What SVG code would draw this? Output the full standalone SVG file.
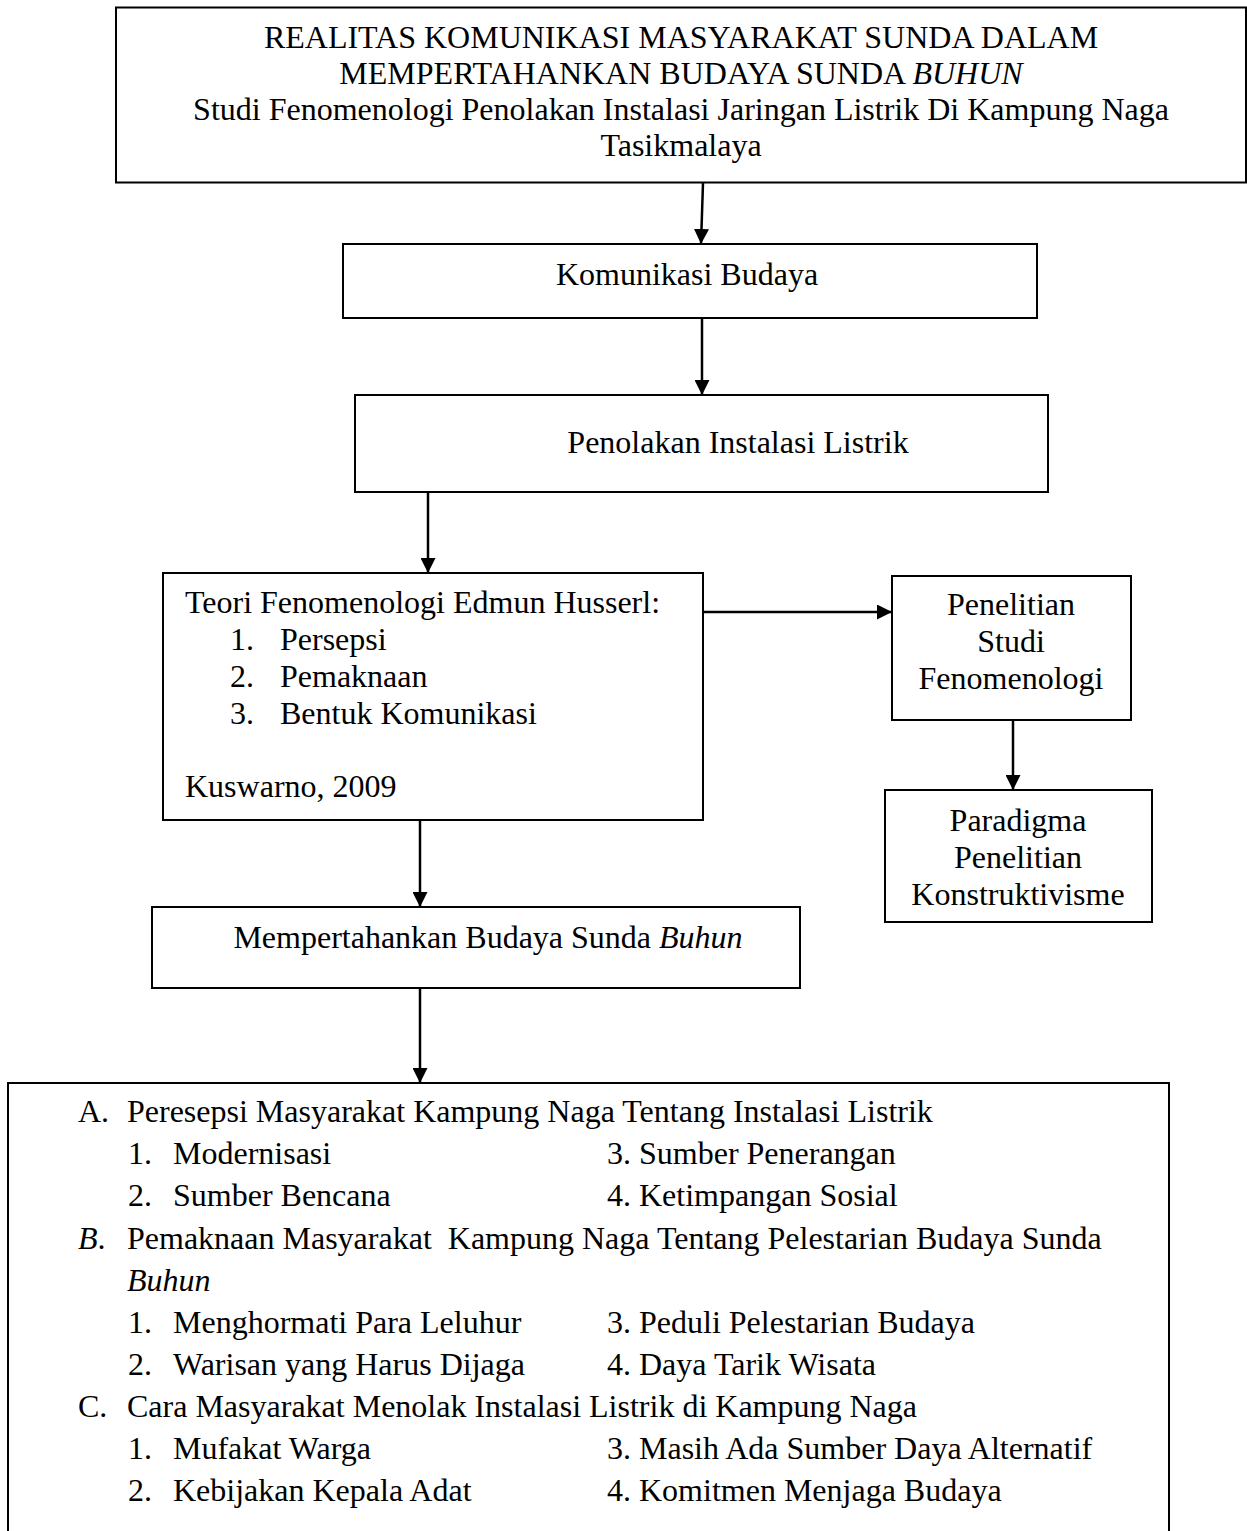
<svg xmlns="http://www.w3.org/2000/svg" width="1247" height="1531" viewBox="0 0 1247 1531">
<defs>
<style>
text{font-family:"Liberation Serif","Times New Roman",serif;font-size:32px;fill:#000}
.c{text-anchor:middle}
.box{fill:#fff;stroke:#000;stroke-width:2}
.ln{stroke:#000;stroke-width:2.5;fill:none}
</style>
<marker id="ah" markerWidth="15" markerHeight="15" refX="15" refY="7.5" orient="auto" markerUnits="userSpaceOnUse">
<path d="M0,0 L15,7.5 L0,15 Z" fill="#000"/>
</marker>
</defs>
<rect width="1247" height="1531" fill="#fff"/>

<g id="connectors">
<line class="ln" x1="703" y1="183" x2="701" y2="244" marker-end="url(#ah)"/>
<line class="ln" x1="702" y1="318" x2="702" y2="395" marker-end="url(#ah)"/>
<line class="ln" x1="428" y1="492" x2="428" y2="573" marker-end="url(#ah)"/>
<line class="ln" x1="699" y1="612" x2="892" y2="612" marker-end="url(#ah)"/>
<line class="ln" x1="1013" y1="720" x2="1013" y2="790" marker-end="url(#ah)"/>
<line class="ln" x1="420" y1="820" x2="420" y2="907" marker-end="url(#ah)"/>
<line class="ln" x1="420" y1="988" x2="420" y2="1083" marker-end="url(#ah)"/>
</g>

<g id="node-title">
<rect class="box" x="116" y="7.5" width="1130" height="175"/>
<text class="c" x="681" y="48">REALITAS KOMUNIKASI MASYARAKAT SUNDA DALAM</text>
<text class="c" x="681" y="84">MEMPERTAHANKAN BUDAYA SUNDA <tspan font-style="italic">BUHUN</tspan></text>
<text class="c" x="681" y="120">Studi Fenomenologi Penolakan Instalasi Jaringan Listrik Di Kampung Naga</text>
<text class="c" x="681" y="156">Tasikmalaya</text>
</g>

<g id="node-komunikasi">
<rect class="box" x="343" y="244" width="694" height="74"/>
<text class="c" x="687" y="285">Komunikasi Budaya</text>
</g>

<g id="node-penolakan">
<rect class="box" x="355" y="395" width="693" height="97"/>
<text class="c" x="738" y="453">Penolakan Instalasi Listrik</text>
</g>

<g id="node-teori">
<rect class="box" x="163" y="573" width="540" height="247"/>
<text x="185" y="613">Teori Fenomenologi Edmun Husserl:</text>
<text x="230" y="650">1.</text><text x="280" y="650">Persepsi</text>
<text x="230" y="687">2.</text><text x="280" y="687">Pemaknaan</text>
<text x="230" y="724">3.</text><text x="280" y="724">Bentuk Komunikasi</text>
<text x="185" y="797">Kuswarno, 2009</text>
</g>

<g id="node-penelitian">
<rect class="box" x="892" y="576" width="239" height="144"/>
<text class="c" x="1011" y="615">Penelitian</text>
<text class="c" x="1011" y="652">Studi</text>
<text class="c" x="1011" y="689">Fenomenologi</text>
</g>

<g id="node-paradigma">
<rect class="box" x="885" y="790" width="267" height="132"/>
<text class="c" x="1018" y="831">Paradigma</text>
<text class="c" x="1018" y="868">Penelitian</text>
<text class="c" x="1018" y="905">Konstruktivisme</text>
</g>

<g id="node-mempertahankan">
<rect class="box" x="152" y="907" width="648" height="81"/>
<text class="c" x="488" y="948">Mempertahankan Budaya Sunda <tspan font-style="italic">Buhun</tspan></text>
</g>

<g id="node-hasil">
<path class="box" d="M8,1540 L8,1083 L1169,1083 L1169,1540"/>
<text x="78" y="1122">A.</text><text x="127" y="1122">Peresepsi Masyarakat Kampung Naga Tentang Instalasi Listrik</text>
<text x="128" y="1164">1.</text><text x="173" y="1164">Modernisasi</text><text x="607" y="1164">3. Sumber Penerangan</text>
<text x="128" y="1206">2.</text><text x="173" y="1206">Sumber Bencana</text><text x="607" y="1206">4. Ketimpangan Sosial</text>
<text x="78" y="1249"><tspan font-style="italic">B</tspan>.</text><text x="127" y="1249" xml:space="preserve">Pemaknaan Masyarakat  Kampung Naga Tentang Pelestarian Budaya Sunda</text>
<text x="127" y="1291" font-style="italic">Buhun</text>
<text x="128" y="1333">1.</text><text x="173" y="1333">Menghormati Para Leluhur</text><text x="607" y="1333">3. Peduli Pelestarian Budaya</text>
<text x="128" y="1375">2.</text><text x="173" y="1375">Warisan yang Harus Dijaga</text><text x="607" y="1375">4. Daya Tarik Wisata</text>
<text x="78" y="1417">C.</text><text x="127" y="1417">Cara Masyarakat Menolak Instalasi Listrik di Kampung Naga</text>
<text x="128" y="1459">1.</text><text x="173" y="1459">Mufakat Warga</text><text x="607" y="1459">3. Masih Ada Sumber Daya Alternatif</text>
<text x="128" y="1501">2.</text><text x="173" y="1501">Kebijakan Kepala Adat</text><text x="607" y="1501">4. Komitmen Menjaga Budaya</text>
</g>
</svg>
